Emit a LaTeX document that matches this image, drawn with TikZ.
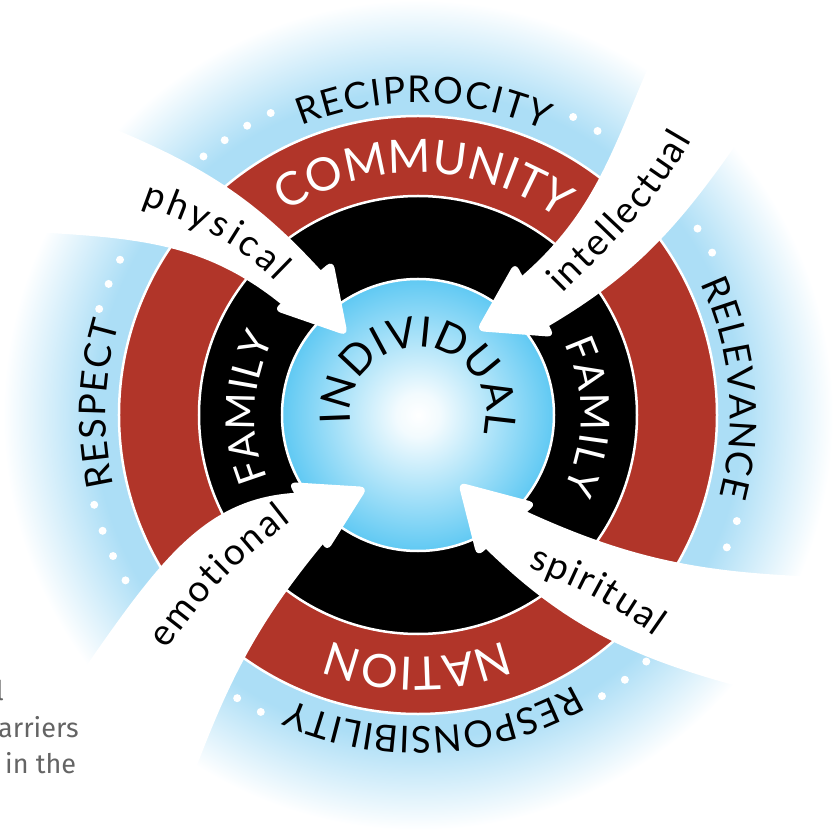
\documentclass[tikz,border=0pt]{standalone}
\usepackage{fontspec}
\setmainfont{Lato}
\newfontfamily\notefont{Fira Sans}
\usetikzlibrary{decorations.text}

\definecolor{ringred}{RGB}{177,53,41}
\definecolor{glowblue}{RGB}{172,222,246}
\definecolor{coreblue}{RGB}{96,201,243}
\definecolor{notegray}{RGB}{100,100,100}

\pgfdeclareradialshading{glow}{\pgfpoint{0bp}{0bp}}{color(0bp)=(glowblue); color(19.5bp)=(glowblue); color(25bp)=(white); color(50bp)=(white)}
\pgfdeclareradialshading{core}{\pgfpoint{0bp}{0bp}}{color(0bp)=(white); color(4bp)=(white!92!coreblue); color(25bp)=(coreblue); color(50bp)=(coreblue)}

\newcommand{\corefont}{\fontsize{42}{44}\selectfont}
\newcommand{\ringfont}{\fontsize{46}{48}\selectfont\color{white}}
\newcommand{\familyfont}{\fontsize{40}{42}\selectfont\color{white}}
\newcommand{\valuefont}{\fontsize{37}{39}\selectfont}
\newcommand{\wordfont}{\fontsize{37}{39}\selectfont}

% text along a clockwise arc: radius, start, end, format, text
\newcommand{\arclabel}[5]{%
  \path[decorate,decoration={text along path,text align={fit to path},text={|#4|#5}}]
    (#2:#1pt) arc[start angle=#2,end angle=#3,radius=#1pt];}

\begin{document}
\begin{tikzpicture}[
  x=1pt, y=1pt,
  sep/.style={draw=white, line width=2.5pt},
  band/.style={fill=white},
  %head corners a bit round
  head/.style={fill=white, rounded corners=8pt},
  note/.style={inner sep=0pt, text=notegray, font=\notefont\fontsize{27}{30}\selectfont}
  ]
  \useasboundingbox (-418,-414) rectangle (419,415);
  \clip (-418,-414) rectangle (419,415);

  \shade[shading=glow] (0,0) circle (415pt);
  \foreach \k in {0,...,7} \fill[white] ({62.5-4.8*\k}:336pt) circle (4pt);
  \foreach \k in {0,...,8} \fill[white] ({-18.4-4.8*\k}:336pt) circle (4pt);
  \foreach \k in {0,...,10} \fill[white] ({-117.9-4.66*\k}:336pt) circle (4pt);
  \foreach \k in {0,...,10} \fill[white] ({161.6-4.56*\k}:336pt) circle (4pt);

  \filldraw[fill=ringred, sep] (0,0) circle (299pt);
  \filldraw[fill=black, sep] (0,0) circle (219pt);
  \shade[shading=core] (0,0) circle (136pt);
  \draw[sep] (0,0) circle (136pt);

  \arclabel{312}{112}{66}{\valuefont}{RECIPROCITY}
  \arclabel{312}{25}{-15}{\valuefont}{RELEVANCE}
  \arclabel{312}{-60}{-114}{\valuefont}{RESPONSIBILITY}
  \arclabel{312}{193}{163}{\valuefont}{RESPECT}
  \arclabel{242}{123}{56}{\ringfont}{COMMUNITY}
  \arclabel{242}{-69}{-111}{\ringfont}{NATION}
  \arclabel{163}{203}{152}{\familyfont}{FAMILY}
  \arclabel{163}{26}{-27}{\familyfont}{FAMILY}

  \coordinate (p1) at (-85,155);  \coordinate (p2) at (-145,105); \coordinate (ptip) at (-70,79);
  \coordinate (i1) at (97,153);   \coordinate (i2) at (137,78);   \coordinate (itip) at (58,84);
  \coordinate (s1) at (119,-88);  \coordinate (s2) at (59,-142);  \coordinate (stip) at (40,-67);
  \coordinate (e1) at (-130,-67); \coordinate (e2) at (-91,-137); \coordinate (etip) at (-50,-72);

  % physical
  \fill[band] (-375,316) -- (-301,285) to[out=-23,in=132] (-92,139) -- (-131,106)
    to[out=140,in=-3.5] (-368,182) -- (-428,186) -- cycle;
  \fill[head] (p1) -- (p2) -- (ptip) -- cycle;
  % intellectual
  \fill[band] (252,400) -- (229,345) to[out=-113,in=40] (98,134) -- (124,85)
    to[out=30,in=-125] (319,272) -- (353,321) -- cycle;
  \fill[head] (i1) -- (i2) -- (itip) -- cycle;
  % spiritual
  \fill[band] (465,-164) -- (405,-162) to[out=178,in=-25] (101,-93) -- (62,-128)
    to[out=-45,in=165] (330,-274) -- (388,-290) -- cycle;
  \fill[head] (s1) -- (s2) -- (stip) -- cycle;
  % emotional
  \fill[band] (-379,-319) -- (-345,-270) .. controls (-260,-148) and (-215,-80) .. (-115,-77.5)
    -- (-90,-123) to[out=230,in=70] (-232,-380) -- (-252,-436) -- cycle;
  \fill[head] (e1) -- (e2) -- (etip) -- cycle;

  \path[decorate,decoration={text along path,text align={fit to path},text={|\wordfont|physical}}]
    (-277,210) to[out=-20,in=135] (-142,133);
  \path[decorate,decoration={text along path,text align={fit to path},text={|\wordfont|intellectual}}]
    (144,121) to[out=45,in=240] (274,275);
  \path[decorate,decoration={text along path,text align={fit to path},text={|\wordfont|spiritual}}]
    (110,-153) to[out=-20,in=145] (237,-221);
  \path[decorate,decoration={text along path,text align={fit to path},text={|\wordfont|emotional}}]
    (-251,-235) to[out=55,in=218] (-127,-106);

  \arclabel{68}{187}{-9}{\corefont}{INDIVIDUAL}

  \node[note, anchor=base east] (notel) at (-414,-285) {l};
  \node[note, anchor=base west] (notebarriers) at (-420,-322) {arriers};
  \node[note, anchor=base west] (notein) at (-413,-358) {in the};
\end{tikzpicture}
\end{document}
